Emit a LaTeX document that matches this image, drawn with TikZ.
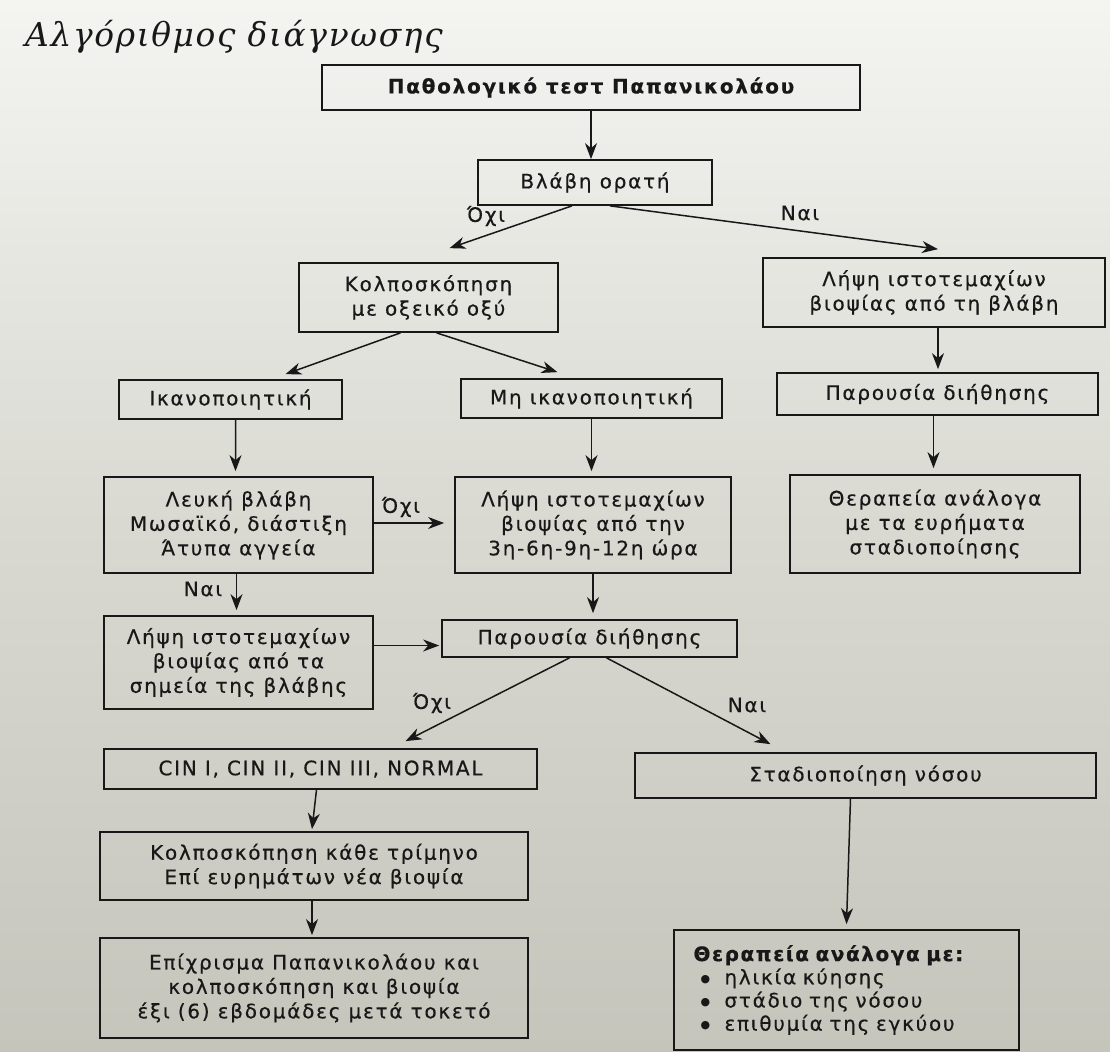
\documentclass[tikz,border=0pt]{standalone}
\usepackage{fontspec}
\setmainfont{DejaVu Sans}[LetterSpace=9,FakeBold=0.6]
\newfontfamily\titlefont{DejaVu Serif}[LetterSpace=5]
\newfontfamily\bulfont{DejaVu Sans}
\usetikzlibrary{arrows.meta,calc}
\definecolor{ink}{HTML}{181818}
\definecolor{papertop}{HTML}{F4F4F1}
\definecolor{papermid}{HTML}{D9D9D2}
\definecolor{paperbot}{HTML}{C5C5BC}
\tikzset{
  bx/.style={draw=ink, line width=1.7bp, inner sep=0pt, align=center, text=ink,
    font=\fontsize{20}{24.5}\selectfont},
  arr/.style={draw=ink, line width=1.5bp, -{Stealth[length=16bp,width=12bp,inset=5bp]}},
  lbl/.style={inner sep=0pt, text=ink, font=\fontsize{20}{22}\selectfont}
}
\newcommand{\bul}{\hspace*{7bp}\makebox[24bp][l]{\raisebox{2bp}{\bulfont\fontsize{11}{11}\selectfont ●}}}
\begin{document}
\begin{tikzpicture}[x=1bp,y=-1bp]
\shade[top color=papertop, bottom color=paperbot, middle color=papermid] (0,0) rectangle (1110,1052);
\useasboundingbox (0,0) rectangle (1110,1052);

\node[anchor=base west, inner sep=0pt, text=ink] (title) at (25,46)
  {\titlefont\itshape\fontsize{33}{33}\selectfont Αλγόριθμος διάγνωσης};

% boxes
\node[bx, minimum width=538bp, minimum height=45bp] (b1) at (591,87.5)
  {\bfseries\addfontfeature{LetterSpace=9}Παθολογικό τεστ Παπανικολάου};
\node[bx, minimum width=234bp, minimum height=45bp] (bv) at (595,182.5) {Βλάβη ορατή};
\node[bx, minimum width=259bp, minimum height=69bp] (kolp) at (428.5,297.5)
  {Κολποσκόπηση\\με οξεικό οξύ};
\node[bx, minimum width=342bp, minimum height=69bp] (rl) at (934,292.5)
  {Λήψη ιστοτεμαχίων\\βιοψίας από τη βλάβη};
\node[bx, minimum width=223bp, minimum height=39bp] (ik) at (230.5,399.5) {Ικανοποιητική};
\node[bx, minimum width=261bp, minimum height=39bp] (mi) at (591.5,398.5) {Μη ικανοποιητική};
\node[bx, minimum width=321bp, minimum height=42bp] (rp) at (937.5,394) {Παρουσία διήθησης};
\node[bx, minimum width=269bp, minimum height=96bp] (lev) at (238.5,525)
  {Λευκή βλάβη\\Μωσαϊκό, διάστιξη\\Άτυπα αγγεία};
\node[bx, minimum width=276bp, minimum height=96bp] (lm) at (593,525)
  {Λήψη ιστοτεμαχίων\\βιοψίας από την\\3η-6η-9η-12η ώρα};
\node[bx, minimum width=290bp, minimum height=98bp] (rt) at (935,524)
  {Θεραπεία ανάλογα\\με τα ευρήματα\\σταδιοποίησης};
\node[bx, minimum width=269bp, minimum height=93bp] (ll) at (238.5,662.5)
  {Λήψη ιστοτεμαχίων\\βιοψίας από τα\\σημεία της βλάβης};
\node[bx, minimum width=295bp, minimum height=37bp] (pm) at (589.5,638.5) {Παρουσία διήθησης};
\node[bx, minimum width=433bp, minimum height=40bp] (cin) at (320.5,769)
  {CIN I, CIN II, CIN III, NORMAL};
\node[bx, minimum width=461bp, minimum height=45bp] (st) at (865.5,775.5) {Σταδιοποίηση νόσου};
\node[bx, minimum width=428bp, minimum height=68bp] (kk) at (314,866)
  {Κολποσκόπηση κάθε τρίμηνο\\Επί ευρημάτων νέα βιοψία};
\node[bx, minimum width=428bp, minimum height=100bp] (ep) at (314,988)
  {Επίχρισμα Παπανικολάου και\\κολποσκόπηση και βιοψία\\έξι (6) εβδομάδες μετά τοκετό};
\node[bx, minimum width=345bp, minimum height=120bp, text width=306bp, align=left,
  font=\fontsize{20}{23.3}\selectfont] (th) at (846.5,990)
  {{\bfseries\addfontfeature{LetterSpace=8}Θεραπεία ανάλογα με:}\\
   \bul ηλικία κύησης\\
   \bul στάδιο της νόσου\\
   \bul επιθυμία της εγκύου};

% connectors
\draw[arr] (b1.south) -- (b1.south |- bv.north);
\draw[arr] ([xshift=-23bp]bv.south) -- ([xshift=21bp,yshift=14bp]kolp.north);
\draw[arr] ([xshift=15bp]bv.south) -- ([xshift=4bp,yshift=8bp]rl.north);
\draw[arr] ([xshift=-28bp]kolp.south) -- ([xshift=55bp,yshift=5bp]ik.north);
\draw[arr] ([xshift=8bp]kolp.south) -- ([xshift=-34bp,yshift=6bp]mi.north);
\draw[arr] ([xshift=5bp]ik.south) -- ([xshift=-3bp,yshift=5bp]lev.north);
\draw[arr] (mi.south) -- ([yshift=5bp]mi.south |- lm.north);
\draw[arr] ([yshift=2bp]lev.east) -- ([xshift=-10bp,yshift=2bp]lev.east -| lm.west);
\draw[arr] ([xshift=-2bp]lev.south) -- ([xshift=-2bp,yshift=5bp]lev.south |- ll.north);
\draw[arr] (lm.south) -- ([yshift=6bp]lm.south |- pm.north);
\draw[arr] ([yshift=17bp]ll.east) -- ([xshift=-2bp,yshift=17bp]ll.east -| pm.west);
\draw[arr] ([xshift=4bp]rl.south) -- ([xshift=4bp,yshift=3bp]rl.south |- rp.north);
\draw[arr] ([xshift=-4bp]rp.south) -- ([xshift=-4bp,yshift=6bp]rp.south |- rt.north);
\draw[arr] ([xshift=-20bp]pm.south) -- ([xshift=85bp,yshift=7bp]cin.north);
\draw[arr] ([xshift=17bp]pm.south) -- ([xshift=-95bp,yshift=8bp]st.north);
\draw[arr] ([xshift=-4bp]cin.south) -- ([xshift=-2bp,yshift=2bp]kk.north);
\draw[arr] ([xshift=-2bp]kk.south) -- ([xshift=-2bp,yshift=2bp]ep.north);
\draw[arr] ([xshift=-15bp]st.south) -- ([xshift=0bp,yshift=5bp]th.north);

% labels
\node[lbl] (l1) at (486,216) {Όχι};
\node[lbl] (l2) at (800,213) {Ναι};
\node[lbl] (l3) at (401,507) {Όχι};
\node[lbl] (l4) at (203,589) {Ναι};
\node[lbl] (l5) at (432,703) {Όχι};
\node[lbl] (l6) at (747,705) {Ναι};
\end{tikzpicture}
\end{document}
